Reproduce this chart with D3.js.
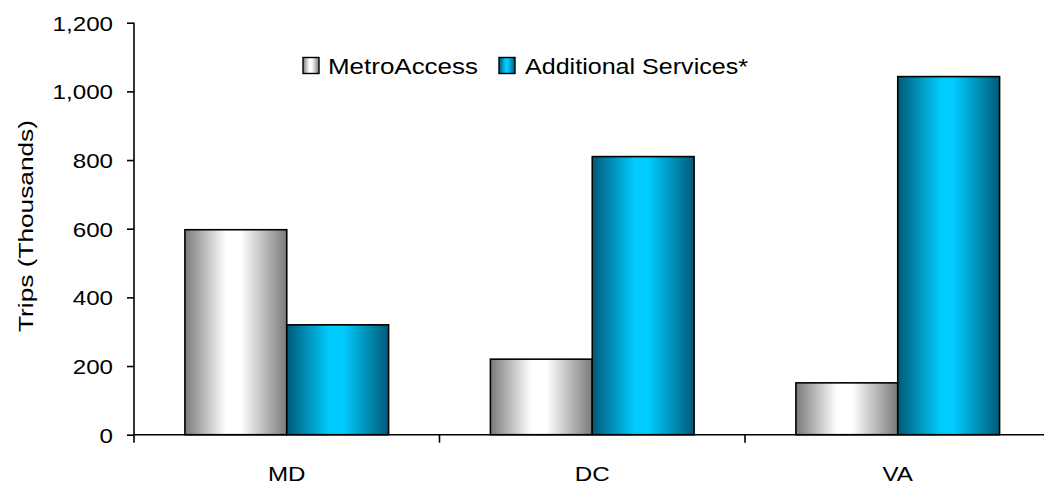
<!DOCTYPE html>
<html>
<head>
<meta charset="utf-8">
<script src="https://cdn.jsdelivr.net/npm/d3@7"></script>
<style>
  html, body { margin: 0; padding: 0; background: #fff; }
  svg { display: block; }
  text { font-family: "Liberation Sans", Arial, sans-serif; fill: #000; }
</style>
</head>
<body>
<svg id="chart" width="1044" height="485"></svg>
<script>
const categories = ["MD", "DC", "VA"];
const seriesNames = ["MetroAccess", "Additional Services*"];
const metroAccess = [597, 220, 151];
const additionalServices = [320, 810, 1043];
const yTickValues = [0, 200, 400, 600, 800, 1000, 1200];
const yTitle = "Trips (Thousands)";

(function () {
const svg = d3.select("#chart");
const W = 1044, H = 485;
const pLeft = 134, pRight = 1050.5, pTop = 22.7, pBottom = 434.7;
const FS = 21;

const defs = svg.append("defs");
function grad(id, edge, mid, midStop) {
  const g = defs.append("linearGradient").attr("id", id)
    .attr("x1", "0%").attr("x2", "100%").attr("y1", "0%").attr("y2", "0%");
  g.append("stop").attr("offset", "0%").attr("stop-color", edge);
  g.append("stop").attr("offset", midStop[0]).attr("stop-color", mid);
  g.append("stop").attr("offset", midStop[1]).attr("stop-color", mid);
  g.append("stop").attr("offset", "100%").attr("stop-color", edge);
}
grad("gGray", "#7a7a7a", "#ffffff", ["40%", "55%"]);
grad("gBlue", "#005a78", "#00ccff", ["42%", "55%"]);
const fills = ["url(#gGray)", "url(#gBlue)"];

const x = d3.scaleBand().domain(categories).range([pLeft, pRight]).padding(0);
const xs = d3.scaleBand().domain(seriesNames).range([0, x.bandwidth()])
  .paddingInner(0).paddingOuter(0.5);
const y = d3.scaleLinear().domain([0, 1200]).range([pBottom, pTop]);

const rows = categories.map((c, i) => ({ c, vals: [metroAccess[i], additionalServices[i]] }));

// bars
const g = svg.append("g");
rows.forEach(r => {
  r.vals.forEach((v, j) => {
    g.append("rect")
      .attr("x", x(r.c) + xs(seriesNames[j]))
      .attr("y", y(v))
      .attr("width", xs.bandwidth())
      .attr("height", y(0) - y(v))
      .attr("fill", fills[j])
      .attr("stroke", "#000")
      .attr("stroke-width", 1.6);
  });
});

// y axis
const yAxis = svg.append("g").attr("transform", `translate(${pLeft},0)`)
  .call(d3.axisLeft(y).tickValues(yTickValues).tickSize(7).tickPadding(14)
    .tickFormat(d3.format(",")));
yAxis.select(".domain").attr("d", `M0,${pTop}V${pBottom}`).attr("stroke", "#000").attr("stroke-width", 1.6);
yAxis.selectAll(".tick line").attr("stroke", "#000").attr("stroke-width", 1.6);
yAxis.selectAll("text").attr("font-size", FS).attr("dy", "0.36em")
  .style("font-family", '"Liberation Sans", Arial, sans-serif');

// x axis
const xAxis = svg.append("g").attr("transform", `translate(0,${pBottom})`);
xAxis.append("line").attr("x1", pLeft).attr("x2", W).attr("y1", 0).attr("y2", 0)
  .attr("stroke", "#000").attr("stroke-width", 1.6);
categories.forEach(c => {
  xAxis.append("line").attr("x1", x(c)).attr("x2", x(c)).attr("y1", 0).attr("y2", 8)
    .attr("stroke", "#000").attr("stroke-width", 1.6);
  xAxis.append("text").attr("class", "xl")
    .attr("x", x(c) + x.bandwidth() / 2).attr("y", 481 - pBottom)
    .attr("text-anchor", "middle").attr("font-size", FS).text(c);
});

// y title
svg.append("text").attr("class", "ytitle")
  .attr("transform", `translate(33,226) rotate(-90)`)
  .attr("text-anchor", "middle").attr("font-size", FS).text(yTitle);

// legend
const legend = svg.append("g");
const legendPos = [{ sx: 303, tx: 328, w: 150 }, { sx: 499, tx: 525, w: 223 }];
seriesNames.forEach((s, j) => {
  legend.append("rect").attr("x", legendPos[j].sx).attr("y", 57.5)
    .attr("width", 16).attr("height", 16)
    .attr("fill", fills[j]).attr("stroke", "#000").attr("stroke-width", 1.4);
  legend.append("text").attr("class", "lg").attr("data-w", legendPos[j].w)
    .attr("x", legendPos[j].tx).attr("y", 74).attr("font-size", FS + 1).text(s);
});

// horizontal stretch to match reference text proportions
yAxis.selectAll("text").each(function () {
  const l = this.getComputedTextLength();
  d3.select(this).attr("textLength", l * 1.15).attr("lengthAdjust", "spacingAndGlyphs");
});
svg.selectAll("text.xl").each(function () {
  const l = this.getComputedTextLength();
  d3.select(this).attr("textLength", l * 1.15).attr("lengthAdjust", "spacingAndGlyphs");
});
svg.selectAll("text.lg").each(function () {
  d3.select(this).attr("textLength", +this.getAttribute("data-w")).attr("lengthAdjust", "spacingAndGlyphs");
});
svg.select("text.ytitle").attr("textLength", 212).attr("lengthAdjust", "spacingAndGlyphs");
})();
</script>
</body>
</html>
